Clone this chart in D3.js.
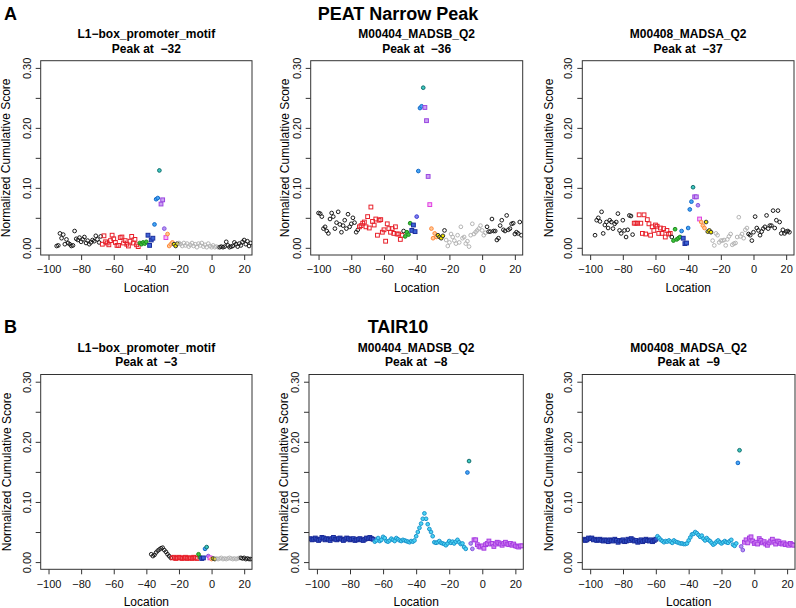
<!DOCTYPE html>
<html><head><meta charset="utf-8">
<script src="https://cdn.jsdelivr.net/npm/d3@7"></script>
<style>body{margin:0;background:#fff}svg{font-family:"Liberation Sans",Arial,Helvetica,sans-serif}</style>
</head><body><svg id="c" width="796" height="608"></svg>
<script>
// ---------- data ----------
const xTicks = [-100,-80,-60,-40,-20,0,20];
const yTicks = [0,0.05,0.10,0.15,0.20,0.25,0.30];
const yTickLabels = ["0.00","","0.10","","0.20","","0.30"];
const sectionTitles = ["PEAT Narrow Peak","TAIR10"];
const sectionLetters = ["A","B"];
const motifNames = ["L1\u2212box_promoter_motif","M00404_MADSB_Q2","M00408_MADSA_Q2"];
const peaksA = [-32,-36,-37];
const peaksB = [-3,-8,-9];

// A1: L1-box, PEAT
const a1Start = -95;
const a1Scores = [0.003,0.004,0.024,0.016,0.022,0.006,0.014,0.008,0.006,0.003,0.004,0.028,0.015,0.013,0.017,0.010,0.014,0.018,0.008,0.012,0.006,0.009,0.013,0.011,0.020,0.014,0.009,0.019,
 0.006,0.020,0.010,0.008,0.005,0.012,0.021,0.015,0.009,0.004,0.004,0.017,0.018,0.008,0.012,0.006,0.003,0.011,0.019,0.008,0.014,0.005,0.002,
 0.008,0.006,0.009,0.007,0.010,
 0.021,0.004,0.013,0.016,
 0.039,0.081,0.083,
 0.129,
 0.073,0.080,
 0.032,
 0.017,
 0.023,0.003,0.006,0.009,
 0.006,0.003,0.007,
 0.008,0.006,0.003,0.008,0.004,0.007,0.002,0.005,0.008,0.003,0.006,0.001,0.007,0.004,0.008,0.002,0.005,0.001,0.007,0.003,0.001,0.004,0.001,0.002,0.001,
 0.001,0.002,0.001,0.002,0.010,0.004,0.001,0.002,0.003,0.009,0.006,0.002,0.007,0.004,0.010,0.013,0.006,0.011,0.003,0.008];
const a1Runs = [["black",28],["red",23],["green",5],["navy",4],["dodger",3],["teal",1],["purple",2],["violet",1],["magenta",1],["orange",4],["yellow",3],["gray",25],["black",20]];

// A2: MADSB, PEAT
const a2Start = -100;
const a2Scores = [0.058,0.057,0.052,0.032,0.035,0.028,0.024,0.048,0.058,0.052,0.032,0.042,0.060,0.039,0.026,0.037,0.046,0.032,0.056,0.035,0.040,0.050,0.042,0.026,0.030,
 0.035,0.037,0.041,0.043,0.035,0.052,0.033,0.068,0.044,0.038,0.048,0.021,0.046,0.047,0.026,0.030,0.011,0.040,0.032,0.026,0.032,0.024,0.035,0.023,0.023,0.014,0.021,
 0.028,
 0.019,0.026,0.022,0.041,
 0.029,0.038,0.027,
 0.052,
 0.128,0.233,0.236,
 0.267,
 0.234,0.212,0.119,
 0.072,
 0.032,0.016,0.024,0.018,
 0.021,0.018,0.016,0.020,
 0.029,
 0.013,0.003,0.009,0.023,0.018,0.012,0.007,0.021,0.009,0.035,0.016,0.018,0.007,0.011,0.002,0.021,0.040,0.023,0.026,0.029,0.032,0.037,0.029,0.021,0.025,
 0.035,0.027,0.027,0.048,0.028,0.028,0.013,0.016,0.037,0.046,0.030,0.028,0.054,0.030,0.032,0.040,0.041,0.023,0.026,0.024,0.043,0.021];
const a2Runs = [["black",25],["red",27],["black",1],["green",4],["navy",3],["slate",1],["dodger",3],["teal",1],["purple",3],["magenta",1],["orange",4],["yellow",4],["black",1],["gray",25],["black",22]];

// A3: MADSA, PEAT
const a3Start = -97;
const a3Scores = [0.021,0.046,0.050,0.044,0.060,0.024,0.038,0.043,0.033,0.046,0.043,0.032,0.040,0.043,0.057,0.029,0.024,0.046,0.029,0.018,0.030,0.054,0.053,0.022,
 0.041,0.041,0.041,0.055,0.041,0.024,0.055,0.023,0.047,0.040,0.021,0.035,0.029,0.038,0.036,0.024,0.033,0.024,0.032,0.018,0.029,0.023,0.024,
 0.018,
 0.012,0.031,0.014,0.016,0.018,
 0.028,
 0.016,0.007,0.008,
 0.033,0.064,0.077,
 0.101,
 0.085,0.085,
 0.071,
 0.048,
 0.043,0.037,0.033,
 0.043,0.027,0.029,0.026,
 0.012,0.004,0.024,0.021,0.009,0.012,0.012,0.013,0.004,0.014,0.019,0.023,0.005,0.007,0.008,0.018,0.051,0.019,0.023,0.016,0.030,0.033,
 0.023,0.021,0.012,0.026,0.052,0.033,0.029,0.021,0.027,0.032,0.035,0.054,0.032,0.037,0.037,0.062,0.033,0.046,0.062,0.043,0.024,0.030,0.024,0.027,0.028,0.026];
const a3Runs = [["black",24],["red",23],["black",1],["green",5],["dodger",1],["navy",3],["dodger",3],["teal",1],["purple",2],["violet",1],["magenta",1],["orange",3],["yellow",4],["gray",22],["black",26]];

// B1: L1-box, TAIR10
const b1Start = -37;
const b1Scores = [0.013,0.010,0.012,0.016,0.019,0.021,0.023,0.024,0.020,0.017,0.013,0.010,0.007,
 0.007,0.008,0.006,0.007,0.008,0.007,0.006,0.007,0.008,0.006,0.007,0.007,0.006,0.008,0.007,0.006,
 0.013,0.008,
 0.006,0.007,
 0.022,
 0.025,
 0.010,
 0.007,
 0.005,
 0.006,0.005,
 0.006,0.005,0.006,0.007,0.005,0.006,0.005,0.006,0.007,0.006,0.005,0.006,0.005,0.006,0.007,
 0.007,0.006,0.007,0.005,0.006,0.005,0.005];
const b1Runs = [["black",13],["red",16],["green",2],["navy",2],["dodger",1],["teal",1],["violet",1],["magenta",1],["orange",1],["yellow",2],["gray",15],["black",7]];

// B2: MADSB, TAIR10
const b2Start = -104;
const b2Scores = [0.039,0.037,0.038,0.040,0.038,0.036,0.038,0.041,0.040,0.037,0.039,0.038,0.036,0.039,0.041,0.038,0.037,0.039,0.040,0.038,
 0.036,0.038,0.040,0.039,0.037,0.038,0.039,0.036,0.037,0.038,0.039,0.037,0.036,0.038,0.040,0.039,0.041,0.039,0.038,
 0.034,0.036,0.040,0.035,0.037,0.042,0.040,0.035,0.034,0.036,0.039,0.037,0.035,0.040,0.038,0.036,0.035,0.037,0.036,0.035,0.034,0.033,0.035,0.034,0.036,
 0.043,0.050,0.057,0.064,0.072,0.081,0.072,0.063,0.055,0.050,0.043,0.033,0.032,
 0.033,0.035,0.032,0.031,0.030,0.028,0.031,0.035,0.032,0.034,0.031,0.034,0.037,0.033,0.030,0.031,0.025,0.022,
 0.149,
 0.168,
 0.031,0.022,
 0.037,0.037,0.029,0.026,0.025,0.027,0.023,0.029,0.031,0.035,0.030,0.031,0.026,0.030,0.033,0.032,0.030,0.028,0.031,0.033,
 0.030,0.029,0.031,0.028,0.030,0.027,0.026,0.025,0.027,0.027];
const b2Runs = [["navyB",39],["sky",56],["dodger",1],["teal",1],["violet",2],["purpleB",30]];

// B3: MADSA, TAIR10
const b3Start = -104;
const b3Scores = [0.038,0.036,0.037,0.040,0.039,0.040,0.037,0.038,0.036,0.037,0.038,0.036,0.035,0.037,0.036,0.034,0.037,0.036,0.035,0.038,
 0.036,0.033,0.036,0.035,0.037,0.034,0.035,0.038,0.036,0.039,0.037,0.035,0.036,0.033,0.035,0.037,0.034,0.036,0.038,0.036,
 0.035,0.037,0.034,0.036,0.038,
 0.043,0.040,0.037,0.035,0.033,0.035,0.034,0.036,0.034,0.032,0.036,0.034,0.033,0.032,0.031,0.031,0.030,0.030,0.031,0.036,
 0.041,0.046,0.047,0.050,0.048,0.045,0.042,0.044,0.039,0.036,0.040,0.037,0.035,0.032,0.029,0.031,0.034,0.036,0.033,0.031,
 0.033,0.035,0.033,0.032,0.035,0.037,0.029,0.027,0.031,
 0.165,
 0.186,
 0.026,0.020,
 0.033,0.037,0.032,0.040,0.042,0.035,0.031,0.033,0.030,0.039,0.036,0.032,0.034,0.030,0.028,0.032,0.035,0.038,0.033,0.030,
 0.035,0.034,0.031,0.030,0.032,0.029,0.030,0.028,0.031,0.029,0.028];
const b3Runs = [["navyB",45],["sky",49],["dodger",1],["teal",1],["violet",2],["purpleB",31]];

// ---------- styles ----------
const groupStyle = {
  black:  {shape:"circle", stroke:"#1a1a1a", fill:"none"},
  red:    {shape:"square", stroke:"#e8202a", fill:"none"},
  green:  {shape:"circle", stroke:"#1f8a1f", fill:"#3cc43c"},
  navy:   {shape:"square", stroke:"#1c2f9e", fill:"#3d63d6"},
  navyB:  {shape:"square", stroke:"#1a2a98", fill:"#3256cc"},
  dodger: {shape:"circle", stroke:"#1469c8", fill:"#45a6f5"},
  teal:   {shape:"circle", stroke:"#146e6e", fill:"#3cc8c0"},
  purple: {shape:"square", stroke:"#9a46e0", fill:"#caa2f2"},
  purpleB:{shape:"square", stroke:"#a63ce2", fill:"#d48af2"},
  violet: {shape:"circle", stroke:"#8656e0", fill:"#b394f0"},
  slate:  {shape:"circle", stroke:"#3c3cd0", fill:"#8080f0"},
  magenta:{shape:"square", stroke:"#e03ce0", fill:"#f4c4f4"},
  orange: {shape:"circle", stroke:"#ff8a3c", fill:"#ffc896"},
  yellow: {shape:"circle", stroke:"#333333", fill:"#f2e600"},
  gray:   {shape:"circle", stroke:"#b4b4b4", fill:"none"},
  sky:    {shape:"circle", stroke:"#1c94cc", fill:"#4cd4f4"}
};

const panels = [
  {start:a1Start, scores:a1Scores, runs:a1Runs, name:motifNames[0], peak:peaksA[0], L:40.7, T:60.7, R:252,  B:255,   ylab:6},
  {start:a2Start, scores:a2Scores, runs:a2Runs, name:motifNames[1], peak:peaksA[1], L:310.7,T:60.7, R:522.7,B:255,   ylab:285},
  {start:a3Start, scores:a3Scores, runs:a3Runs, name:motifNames[2], peak:peaksA[2], L:582.3,T:60.7, R:794,  B:255,   ylab:548.3},
  {start:b1Start, scores:b1Scores, runs:b1Runs, name:motifNames[0], peak:peaksB[0], L:40.7, T:374.5,R:252,  B:569.3, ylab:6.5},
  {start:b2Start, scores:b2Scores, runs:b2Runs, name:motifNames[1], peak:peaksB[1], L:309,  T:374.5,R:523.3,B:569.3, ylab:283.3},
  {start:b3Start, scores:b3Scores, runs:b3Runs, name:motifNames[2], peak:peaksB[2], L:582.3,T:374.5,R:795,  B:569.3, ylab:549}
];

const svg = d3.select("#c");
const defs = svg.append("defs");
const minus = v => v < 0 ? "\u2212" + (-v) : String(v);

// section headers
[14, 327].forEach((yy, i) => {
  svg.append("text").attr("x", 398).attr("y", yy).attr("dy","0.36em").attr("text-anchor","middle")
    .attr("font-size", 18).attr("font-weight","bold").text(sectionTitles[i]);
  svg.append("text").attr("x", 4).attr("y", yy).attr("dy","0.36em")
    .attr("font-size", 18).attr("font-weight","bold").text(sectionLetters[i]);
});

panels.forEach((p, i) => {
  const x = d3.scaleLinear().domain([-104.8, 24.8]).range([p.L, p.R]);
  const y = d3.scaleLinear().domain([-0.012, 0.312]).range([p.B, p.T]);
  const cx = (p.L + p.R) / 2, cy = (p.T + p.B) / 2;
  const g = svg.append("g");

  // titles
  g.append("text").attr("x", cx).attr("y", p.T - 27).attr("dy","0.36em").attr("text-anchor","middle")
    .attr("font-size", 12).attr("font-weight","bold").text(p.name);
  g.append("text").attr("x", cx).attr("y", p.T - 12.5).attr("dy","0.36em").attr("text-anchor","middle")
    .attr("font-size", 12).attr("font-weight","bold").style("white-space","pre").text("Peak at  " + minus(p.peak));

  // points
  defs.append("clipPath").attr("id","clip"+i).append("rect")
    .attr("x", p.L).attr("y", p.T).attr("width", p.R - p.L).attr("height", p.B - p.T);
  const groups = p.runs.flatMap(([gname, n]) => Array(n).fill(gname));
  const pts = p.scores.map((v, k) => ({loc: p.start + k, v, g: groups[k]}));
  const pg = g.append("g").attr("clip-path", `url(#clip${i})`);
  pts.forEach(d => {
    const s = groupStyle[d.g];
    if (s.shape === "circle") {
      pg.append("circle").attr("cx", x(d.loc)).attr("cy", y(d.v)).attr("r", 1.85)
        .attr("fill", s.fill).attr("stroke", s.stroke).attr("stroke-width", 1);
    } else {
      pg.append("rect").attr("x", x(d.loc) - 1.9).attr("y", y(d.v) - 1.9).attr("width", 3.8).attr("height", 3.8)
        .attr("fill", s.fill).attr("stroke", s.stroke).attr("stroke-width", 1);
    }
  });

  // x axis
  const xa = g.append("g").attr("transform", `translate(0,${p.B})`)
    .call(d3.axisBottom(x).tickValues(xTicks).tickFormat(minus).tickSize(5).tickPadding(5.5));
  xa.select(".domain").remove();
  xa.selectAll("line").attr("stroke", "#333");
  xa.selectAll("text").attr("font-size", 11).attr("font-family", null).attr("fill", "#111");

  // y axis
  const ya = g.append("g").attr("transform", `translate(${p.L},0)`)
    .call(d3.axisLeft(y).tickValues(yTicks).tickFormat((d, k) => yTickLabels[k]).tickSize(5));
  ya.select(".domain").remove();
  ya.selectAll("line").attr("stroke", "#333");
  ya.selectAll("text").attr("font-size", 11).attr("font-family", null).attr("fill", "#111")
    .attr("transform", "rotate(-90)").attr("x", 0).attr("y", -14).attr("dy", "0.36em").attr("text-anchor", "middle");

  // box
  g.append("rect").attr("x", p.L).attr("y", p.T).attr("width", p.R - p.L).attr("height", p.B - p.T)
    .attr("fill", "none").attr("stroke", "#333").attr("stroke-width", 1);

  // axis titles
  g.append("text").attr("x", cx).attr("y", p.B + 32.3).attr("dy","0.36em").attr("text-anchor","middle")
    .attr("font-size", 12).text("Location");
  g.append("text").attr("transform", `translate(${p.ylab},${cy}) rotate(-90)`).attr("dy","0.36em")
    .attr("text-anchor","middle").attr("font-size", 12).text("Normalized Cumulative Score");
});
</script></body></html>
